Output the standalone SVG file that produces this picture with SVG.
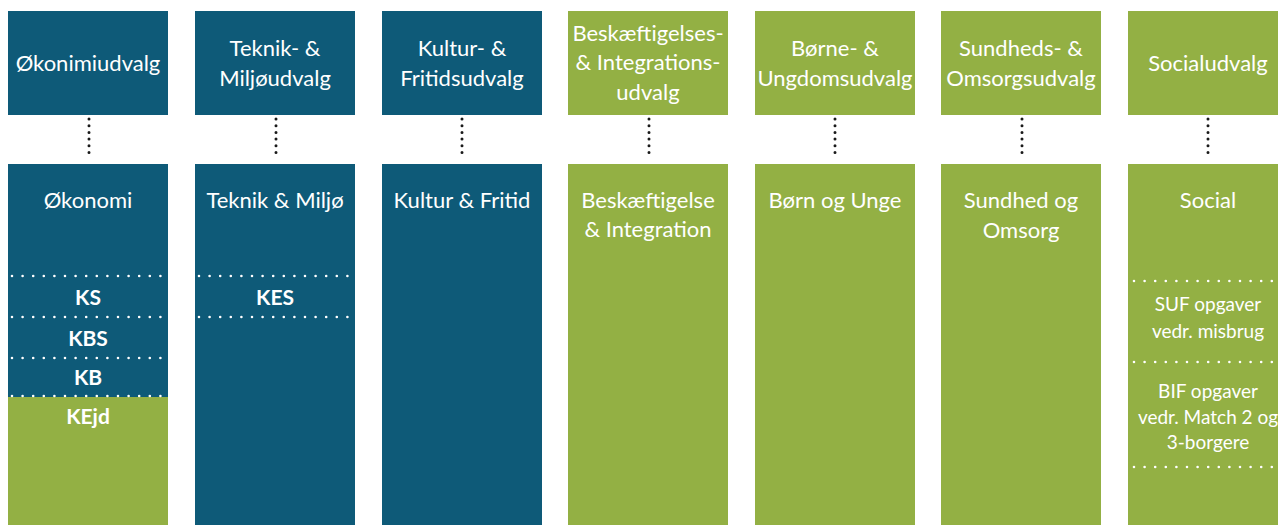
<svg xmlns="http://www.w3.org/2000/svg" width="1278" height="525" viewBox="0 0 1278 525">
<style>
.blue{fill:#0e5a78}
.green{fill:#93b044}
.t{font-family:Lato,"Open Sans","Liberation Sans",sans-serif;font-size:22px;fill:#ffffff;text-anchor:middle}
.s{font-size:19px}
.b{font-weight:bold;font-size:21px}
.conn{stroke:#1a1a1a;stroke-width:3;stroke-linecap:round;stroke-dasharray:0 6.7;fill:none}
.wd{stroke:#ffffff;stroke-width:2.6;stroke-linecap:round;stroke-dasharray:0 10.6;fill:none}
</style>
<rect width="1278" height="525" fill="#ffffff"/>
<g id="connectors">
<line class="conn" x1="89" y1="119" x2="89" y2="159"/>
<line class="conn" x1="276" y1="119" x2="276" y2="159"/>
<line class="conn" x1="462" y1="119" x2="462" y2="159"/>
<line class="conn" x1="649" y1="119" x2="649" y2="159"/>
<line class="conn" x1="835" y1="119" x2="835" y2="159"/>
<line class="conn" x1="1022" y1="119" x2="1022" y2="159"/>
<line class="conn" x1="1208" y1="119" x2="1208" y2="159"/>
</g>
<g id="udvalg-okonomi">
<rect class="blue" x="8" y="11" width="160" height="104"/>
<text class="t" x="88" y="71">Økonimiudvalg</text>
</g>
<g id="udvalg-teknik">
<rect class="blue" x="195" y="11" width="160" height="104"/>
<text class="t" x="275" y="56">Teknik- &amp;</text>
<text class="t" x="275" y="86">Miljøudvalg</text>
</g>
<g id="udvalg-kultur">
<rect class="blue" x="382" y="11" width="160" height="104"/>
<text class="t" x="462" y="56">Kultur- &amp;</text>
<text class="t" x="462" y="86">Fritidsudvalg</text>
</g>
<g id="udvalg-beskaeftigelse">
<rect class="green" x="568" y="11" width="160" height="104"/>
<text class="t" x="648" y="41">Beskæftigelses-</text>
<text class="t" x="648" y="70">&amp; Integrations-</text>
<text class="t" x="648" y="100">udvalg</text>
</g>
<g id="udvalg-born">
<rect class="green" x="755" y="11" width="160" height="104"/>
<text class="t" x="835" y="56">Børne- &amp;</text>
<text class="t" x="835" y="86">Ungdomsudvalg</text>
</g>
<g id="udvalg-sundhed">
<rect class="green" x="941" y="11" width="160" height="104"/>
<text class="t" x="1021" y="56">Sundheds- &amp;</text>
<text class="t" x="1021" y="86">Omsorgsudvalg</text>
</g>
<g id="udvalg-social">
<rect class="green" x="1128" y="11" width="160" height="104"/>
<text class="t" x="1208" y="71">Socialudvalg</text>
</g>
<g id="omraade-okonomi">
<rect class="blue" x="8" y="164" width="160" height="234"/>
<rect class="green" x="8" y="397" width="160" height="128"/>
<text class="t" x="88" y="208">Økonomi</text>
<line class="wd" x1="12" y1="276" x2="166" y2="276"/>
<text class="t b" x="88" y="305">KS</text>
<line class="wd" x1="12" y1="317" x2="166" y2="317"/>
<text class="t b" x="88" y="346">KBS</text>
<line class="wd" x1="12" y1="358" x2="166" y2="358"/>
<text class="t b" x="88" y="385">KB</text>
<line class="wd" x1="12" y1="396" x2="166" y2="396"/>
<text class="t b" x="88" y="424">KEjd</text>
</g>
<g id="omraade-teknik">
<rect class="blue" x="195" y="164" width="160" height="361"/>
<text class="t" x="275" y="208">Teknik &amp; Miljø</text>
<line class="wd" x1="199" y1="276" x2="353" y2="276"/>
<text class="t b" x="275" y="305">KES</text>
<line class="wd" x1="199" y1="317" x2="353" y2="317"/>
</g>
<g id="omraade-kultur">
<rect class="blue" x="382" y="164" width="160" height="361"/>
<text class="t" x="462" y="208">Kultur &amp; Fritid</text>
</g>
<g id="omraade-beskaeftigelse">
<rect class="green" x="568" y="164" width="160" height="361"/>
<text class="t" x="648" y="208">Beskæftigelse</text>
<text class="t" x="648" y="237">&amp; Integration</text>
</g>
<g id="omraade-born">
<rect class="green" x="755" y="164" width="160" height="361"/>
<text class="t" x="835" y="208">Børn og Unge</text>
</g>
<g id="omraade-sundhed">
<rect class="green" x="941" y="164" width="160" height="361"/>
<text class="t" x="1021" y="208">Sundhed og</text>
<text class="t" x="1021" y="238">Omsorg</text>
</g>
<g id="omraade-social">
<rect class="green" x="1128" y="164" width="160" height="361"/>
<text class="t" x="1208" y="208">Social</text>
<line class="wd" x1="1134" y1="281" x2="1278" y2="281"/>
<text class="t s" x="1208" y="311">SUF opgaver</text>
<text class="t s" x="1208" y="338">vedr. misbrug</text>
<line class="wd" x1="1134" y1="362" x2="1278" y2="362"/>
<text class="t s" x="1208" y="398">BIF opgaver</text>
<text class="t s" x="1208" y="424">vedr. Match 2 og</text>
<text class="t s" x="1208" y="449">3-borgere</text>
<line class="wd" x1="1134" y1="467" x2="1278" y2="467"/>
</g>
</svg>
